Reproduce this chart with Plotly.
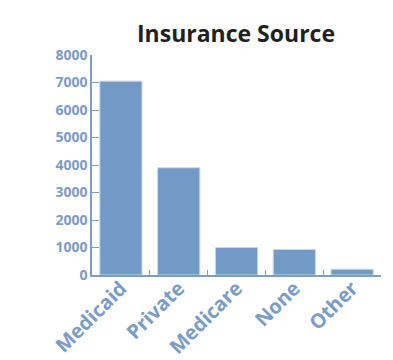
import plotly.graph_objects as go

# Insurance source counts
categories = ["Medicaid", "Private", "Medicare", "None", "Other"]
counts = [7050, 3900, 1000, 930, 210]
y_ticks = [0, 1000, 2000, 3000, 4000, 5000, 6000, 7000, 8000]

bar_color = "#7399c6"
axis_color = "#7a9cc8"

fig = go.Figure(
    go.Bar(
        x=categories,
        y=counts,
        marker=dict(color=bar_color, line=dict(color="#c8d7ea", width=1)),
    )
)

fig.update_layout(
    width=393,
    height=360,
    margin=dict(l=92, r=12, t=55, b=85),
    paper_bgcolor="white",
    plot_bgcolor="white",
    bargap=0.27,
    showlegend=False,
    title=dict(
        text="<b>Insurance Source</b>",
        font=dict(family="Open Sans", size=23, color="#231f20"),
        x=236 / 393,
        xref="container",
        xanchor="center",
        y=1 - 34 / 360,
        yref="container",
        yanchor="middle",
    ),
    font=dict(family="Open Sans"),
)

fig.update_xaxes(
    automargin=False,
    showline=True,
    linecolor=axis_color,
    linewidth=1.5,
    showgrid=False,
    ticks="inside",
    tickson="boundaries",
    ticklen=5,
    tickcolor=axis_color,
    tickangle=-45,
    ticklabelstandoff=-8,
    tickfont=dict(family="Open Sans", size=20, color=axis_color, weight="bold"),
)

fig.update_yaxes(
    automargin=False,
    range=[0, 8000],
    tickvals=y_ticks,
    showline=True,
    linecolor=axis_color,
    linewidth=1.5,
    showgrid=False,
    zeroline=False,
    ticks="inside",
    ticklen=7,
    tickcolor=axis_color,
    tickfont=dict(family="Open Sans", size=14, color=axis_color, weight="bold"),
)

fig.write_html("out.html")
